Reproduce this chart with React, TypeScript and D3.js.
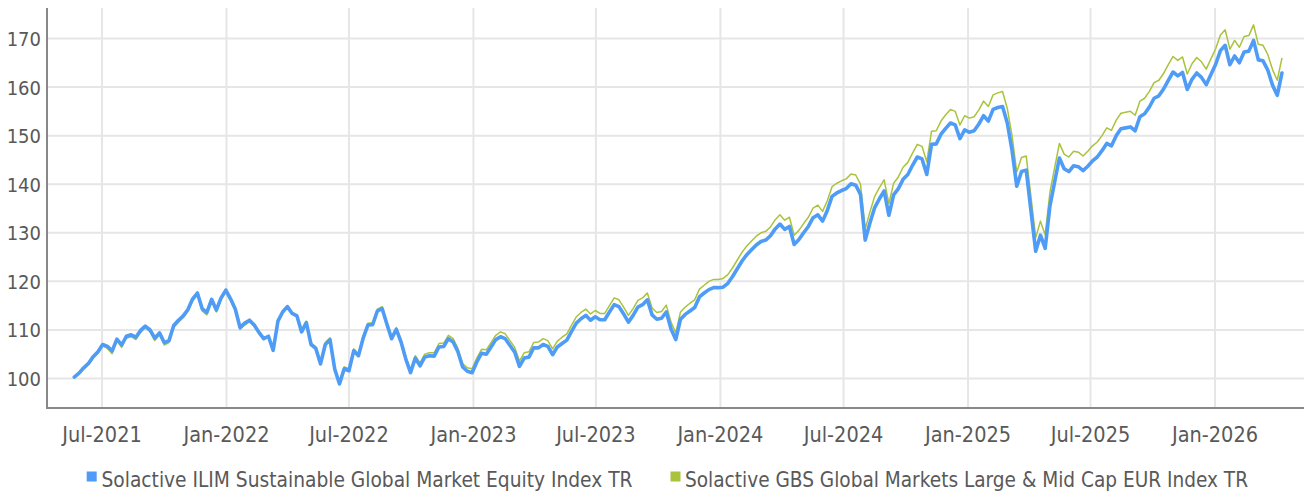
import React from 'react';
import * as d3 from 'd3';

// Weekly observations starting from this date
const START_DATE = '2021-05-21';

const ilimValues: number[] = [
  100.3, 101.1, 102.2, 103.1, 104.5, 105.5, 107.0, 106.6, 105.7, 108.1,
  106.9, 108.7, 109.0, 108.5, 109.9, 110.8, 110.0, 108.3, 109.4, 107.4,
  107.8, 110.9, 112.0, 112.9, 114.2, 116.4, 117.6, 114.4, 113.6, 116.3,
  114.1, 116.6, 118.2, 116.4, 114.3, 110.5, 111.4, 112.0, 111.0, 109.5,
  108.2, 108.7, 105.8, 111.8, 113.7, 114.8, 113.4, 112.9, 109.6, 111.5,
  107.0, 106.2, 103.0, 107.0, 108.0, 101.9, 98.9, 102.0, 101.6, 105.7,
  104.7, 108.3, 111.0, 111.1, 113.9, 114.4, 111.2, 108.2, 110.1, 107.5,
  104.0, 101.2, 104.2, 102.6, 104.4, 104.7, 104.6, 106.5, 106.6, 108.2,
  107.5, 105.5, 102.4, 101.5, 101.2, 103.4, 105.2, 105.0, 106.5, 108.0,
  108.6, 108.2, 106.8, 105.4, 102.5, 104.2, 104.4, 106.3, 106.3, 107.0,
  106.6, 104.9, 106.5, 107.2, 107.9, 109.7, 111.4, 112.3, 113.0, 112.0,
  112.7, 112.1, 112.1, 113.7, 115.2, 114.8, 113.3, 111.6, 113.0, 114.7,
  115.2, 116.2, 113.1, 112.2, 112.4, 113.7, 110.2, 108.0, 112.2, 113.2,
  113.9, 114.6, 116.8, 117.6, 118.3, 118.7, 118.7, 118.8, 119.6, 121.0,
  122.6, 124.2, 125.5, 126.5, 127.5, 128.2, 128.5, 129.4, 130.8, 131.8,
  130.7, 131.3, 127.6, 128.6, 130.0, 131.3, 133.1, 133.7, 132.4, 134.6,
  137.5, 138.2, 138.7, 139.1, 140.1, 139.8, 137.9, 128.5, 132.0, 135.2,
  137.0, 138.6, 133.6, 137.8, 139.1, 141.0, 142.0, 143.9, 145.6, 145.2,
  142.0, 148.2, 148.3, 150.3, 151.5, 152.6, 152.2, 149.4, 151.2, 150.7,
  151.0, 152.4, 154.1, 153.0, 155.4, 155.8, 156.0, 152.6, 147.0, 139.6,
  142.6, 142.9, 134.5, 126.2, 129.5, 126.8, 135.5, 140.5, 145.4, 143.2,
  142.6, 143.8, 143.6, 142.8, 143.7, 144.8, 145.6, 146.9, 148.4, 147.9,
  150.0, 151.4, 151.6, 151.8, 151.0, 153.9, 154.5, 155.9, 157.7, 158.2,
  159.6, 161.4, 163.1, 162.3, 163.0, 159.5, 161.6, 162.9, 162.0, 160.5,
  162.6, 164.7, 167.5, 168.6, 164.6, 166.4, 165.0, 167.2, 167.4, 169.6,
  165.6, 165.4, 163.5, 160.4, 158.3, 162.9,
];

const gbsValues: number[] = [
  100.2, 100.9, 102.0, 102.9, 104.2, 105.2, 106.7, 106.2, 105.1, 107.8,
  106.4, 108.3, 108.6, 108.0, 109.5, 110.4, 109.6, 107.8, 109.0, 106.9,
  107.4, 110.5, 111.6, 112.5, 113.8, 116.0, 117.2, 113.9, 113.1, 115.9,
  113.7, 116.2, 117.8, 116.0, 113.9, 110.1, 111.0, 111.7, 110.7, 109.2,
  108.0, 108.6, 105.8, 111.9, 113.9, 115.0, 113.6, 113.1, 109.9, 111.8,
  107.3, 106.5, 103.3, 107.4, 108.4, 102.3, 99.3, 102.4, 102.0, 106.1,
  105.1, 108.8, 111.4, 111.5, 114.3, 114.8, 111.6, 108.6, 110.5, 108.0,
  104.5, 101.7, 104.7, 103.2, 105.0, 105.3, 105.3, 107.2, 107.3, 108.9,
  108.2, 106.2, 103.1, 102.2, 102.0, 104.2, 106.0, 105.9, 107.4, 108.9,
  109.6, 109.2, 107.8, 106.4, 103.6, 105.3, 105.5, 107.4, 107.5, 108.2,
  107.8, 106.1, 107.7, 108.5, 109.2, 111.0, 112.7, 113.6, 114.3, 113.3,
  114.0, 113.4, 113.4, 115.0, 116.6, 116.2, 114.7, 113.0, 114.4, 116.1,
  116.6, 117.6, 114.5, 113.6, 113.8, 115.1, 111.6, 109.4, 113.7, 114.7,
  115.5, 116.2, 118.4, 119.2, 120.0, 120.4, 120.4, 120.6, 121.4, 122.8,
  124.4, 126.0, 127.3, 128.3, 129.3, 130.0, 130.3, 131.2, 132.7, 133.7,
  132.6, 133.2, 129.5, 130.5, 131.9, 133.2, 135.1, 135.7, 134.4, 136.6,
  139.5, 140.2, 140.7, 141.1, 142.1, 141.9, 140.0, 130.8, 134.3, 137.5,
  139.3, 140.9, 136.0, 140.2, 141.5, 143.5, 144.5, 146.4, 148.2, 147.8,
  144.6, 150.9, 151.0, 153.0, 154.3, 155.4, 155.0, 152.2, 154.1, 153.6,
  153.9, 155.3, 157.1, 156.0, 158.4, 158.8, 159.1, 155.6, 150.0, 142.5,
  145.5, 145.8, 137.4, 129.0, 132.4, 129.6, 138.3, 143.4, 148.4, 146.2,
  145.6, 146.8, 146.6, 145.8, 146.8, 147.9, 148.7, 150.0, 151.6, 151.1,
  153.2, 154.6, 154.8, 155.0, 154.2, 157.1, 157.7, 159.1, 160.9, 161.4,
  162.8, 164.6, 166.3, 165.5, 166.2, 162.7, 164.8, 166.1, 165.2, 163.7,
  165.8, 167.9, 170.7, 171.8, 167.8, 169.6, 168.2, 170.4, 170.6, 172.8,
  168.8, 168.6, 166.7, 163.6, 161.4, 166.0,
];

const yTicks: number[] = [100, 110, 120, 130, 140, 150, 160, 170];

const xTickDates: string[] = [
  '2021-07-01', '2022-01-01', '2022-07-01', '2023-01-01', '2023-07-01',
  '2024-01-01', '2024-07-01', '2025-01-01', '2025-07-01', '2026-01-01',
];
const xTickLabels: string[] = [
  'Jul-2021', 'Jan-2022', 'Jul-2022', 'Jan-2023', 'Jul-2023',
  'Jan-2024', 'Jul-2024', 'Jan-2025', 'Jul-2025', 'Jan-2026',
];

const seriesNames: string[] = [
  'Solactive ILIM Sustainable Global Market Equity Index TR',
  'Solactive GBS Global Markets Large & Mid Cap EUR Index TR',
];
const seriesColors: string[] = ['#4f9cf6', '#a9c33c'];

const FONT = "'Liberation Sans Narrow', 'DejaVu Sans Condensed', 'Roboto', sans-serif";

export default function App() {
  const W = 1304;
  const H = 493;
  const left = 47;
  const right = W;
  const top = 8;
  const bottom = 408;

  const parse = d3.timeParse('%Y-%m-%d');
  const start = parse(START_DATE) as Date;
  const dates = ilimValues.map((_, i) => d3.timeDay.offset(start, 7 * i));
  const tickDates = xTickDates.map((s) => parse(s) as Date);

  const x = d3
    .scaleTime()
    .domain([tickDates[0], tickDates[tickDates.length - 1]])
    .range([102, 1215]);
  const y = d3.scaleLinear().domain([100, 170]).range([378.5, 38.5]);

  const line = d3
    .line<number>()
    .x((_, i) => x(dates[i]))
    .y((d) => y(d));

  const legendItems = [
    { sx: 86.7, tx: 101.5, len: 531 },
    { sx: 670.5, tx: 685, len: 563 },
  ];

  return (
    <svg
      width={W}
      height={H}
      style={{ position: 'absolute', left: 0, top: 0, background: '#fff' }}
      fontFamily={FONT}
    >
      {/* horizontal grid */}
      {yTicks.map((t) => (
        <line key={'hg' + t} x1={left} x2={right} y1={y(t)} y2={y(t)} stroke="#e6e6e6" strokeWidth={2} />
      ))}
      {/* vertical grid */}
      {tickDates.map((d, i) => (
        <line key={'vg' + i} x1={x(d)} x2={x(d)} y1={top} y2={bottom} stroke="#e6e6e6" strokeWidth={2} />
      ))}

      {/* series */}
      <path d={line(gbsValues) || ''} fill="none" stroke={seriesColors[1]} strokeWidth={1.5} strokeLinejoin="round" />
      <path d={line(ilimValues) || ''} fill="none" stroke={seriesColors[0]} strokeWidth={3.6} strokeLinejoin="round" strokeLinecap="round" />

      {/* axes */}
      <line x1={left} x2={left} y1={top} y2={bottom + 1} stroke="#888" strokeWidth={2} />
      <line x1={left} x2={right} y1={bottom} y2={bottom} stroke="#888" strokeWidth={2} />

      {/* y tick labels */}
      {yTicks.map((t) => (
        <text key={'yl' + t} x={41} y={y(t) + 7.5} textAnchor="end" fontSize={20} fill="#595959">
          {t}
        </text>
      ))}

      {/* x tick labels */}
      {tickDates.map((d, i) => (
        <text key={'xl' + i} x={x(d)} y={441.5} textAnchor="middle" fontSize={21.5} fill="#595959">
          {xTickLabels[i]}
        </text>
      ))}

      {/* legend */}
      {legendItems.map((it, i) => (
        <g key={'lg' + i}>
          <rect x={it.sx} y={471.5} width={10} height={10} fill={seriesColors[i]} />
          <text
            x={it.tx}
            y={486.5}
            fontSize={21.5}
            fill="#595959"
            textLength={it.len}
            lengthAdjust="spacingAndGlyphs"
          >
            {seriesNames[i]}
          </text>
        </g>
      ))}
    </svg>
  );
}
